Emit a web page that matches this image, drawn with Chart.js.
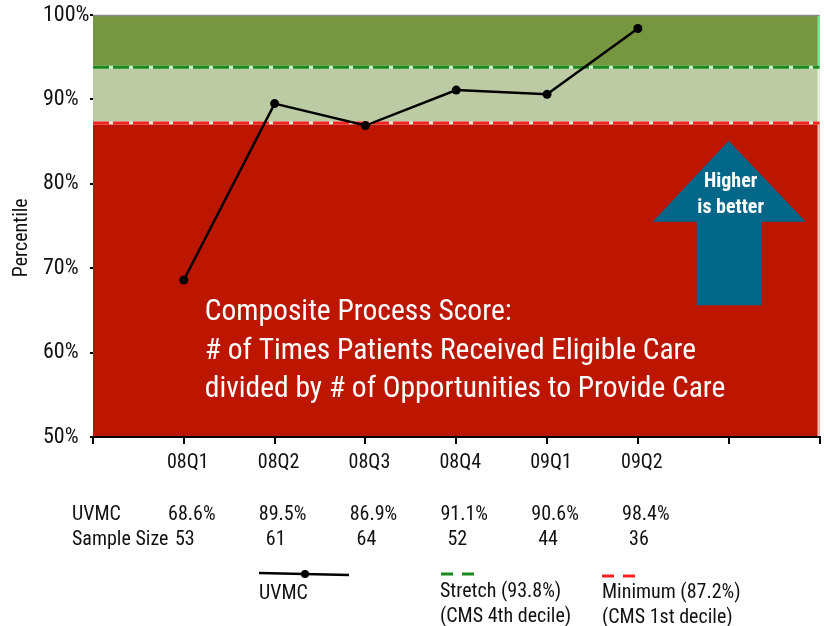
<!DOCTYPE html>
<html>
<head>
<meta charset="utf-8">
<script src="https://cdn.jsdelivr.net/npm/chart.js@4/dist/chart.umd.min.js"></script>
<style>
html,body{margin:0;padding:0;background:#fff;}
#wrap{width:824px;height:626px;position:relative;}
canvas{display:block;}
</style>
</head>
<body>
<div id="wrap"><canvas id="c" width="824" height="626"></canvas></div>
<script>
const categories = ['08Q1', '08Q2', '08Q3', '08Q4', '09Q1', '09Q2'];
const uvmcValues = [68.6, 89.5, 86.9, 91.1, 90.6, 98.4];
const sampleSizes = [53, 61, 64, 52, 44, 36];
const yTickValues = [50, 60, 70, 80, 90, 100];
const stretchTarget = 93.8;
const minimumTarget = 87.2;
const leadingSlots = 1;
const trailingSlots = 2;
const yAxisTitle = 'Percentile';
const noteLines = [
  'Composite Process Score:',
  '# of Times Patients Received Eligible Care',
  'divided by # of Opportunities to Provide Care'
];
const arrowLines = ['Higher', 'is better'];

const FONT = "'Liberation Sans Narrow', 'Arial Narrow', 'Roboto Condensed', sans-serif";

const axisLabels = [].concat(Array(leadingSlots).fill(''), categories, Array(trailingSlots).fill(''));
const seriesData = [].concat(Array(leadingSlots).fill(null), uvmcValues, Array(trailingSlots).fill(null));

const decorPlugin = {
  id: 'decor',
  beforeDraw(chart) {
    const ctx = chart.ctx;
    const a = chart.chartArea;
    const y = chart.scales.y;
    const x = chart.scales.x;
    const yTop = y.getPixelForValue(100);
    const yStretch = y.getPixelForValue(stretchTarget);
    const yMin = y.getPixelForValue(minimumTarget);
    const yBot = y.getPixelForValue(50);
    ctx.save();
    ctx.fillStyle = '#76963f';
    ctx.fillRect(a.left, yTop, a.right - a.left, yStretch - yTop);
    ctx.fillStyle = '#bccba3';
    ctx.fillRect(a.left, yStretch, a.right - a.left, yMin - yStretch);
    ctx.fillStyle = '#bc1500';
    ctx.fillRect(a.left, yMin, a.right - a.left, yBot - yMin);
    ctx.fillStyle = '#5ef59a';
    ctx.fillRect(a.right - 2, yTop, 2, yStretch - yTop);
    ctx.fillStyle = '#e2f5dc';
    ctx.fillRect(a.right - 2, yStretch, 2, yMin - yStretch);
    ctx.fillStyle = '#f3c3bd';
    ctx.fillRect(a.right - 2, yMin, 2, yBot - yMin);
    ctx.strokeStyle = '#8a8a8a';
    ctx.lineWidth = 1.5;
    ctx.beginPath(); ctx.moveTo(a.left, yTop + 0.5); ctx.lineTo(a.right, yTop + 0.5); ctx.stroke();
    function dashed(yy, under, over) {
      ctx.lineWidth = 3;
      ctx.setLineDash([]);
      ctx.strokeStyle = under;
      ctx.beginPath(); ctx.moveTo(a.left, yy); ctx.lineTo(a.right, yy); ctx.stroke();
      ctx.setLineDash([16, 4]);
      ctx.strokeStyle = over;
      ctx.beginPath(); ctx.moveTo(a.left, yy); ctx.lineTo(a.right, yy); ctx.stroke();
      ctx.setLineDash([]);
    }
    dashed(yStretch, '#c9f7c9', '#1a8a1f');
    dashed(yMin, '#e6eedc', '#f52222');

    const ax = x.getPixelForValue(7);
    const apexY = y.getPixelForValue(85.1);
    const baseY = y.getPixelForValue(75.5);
    const tailY = y.getPixelForValue(65.6);
    ctx.fillStyle = '#03678a';
    ctx.beginPath();
    ctx.moveTo(ax, apexY);
    ctx.lineTo(ax + 77, baseY);
    ctx.lineTo(ax + 33, baseY);
    ctx.lineTo(ax + 33, tailY);
    ctx.lineTo(ax - 32, tailY);
    ctx.lineTo(ax - 32, baseY);
    ctx.lineTo(ax - 76, baseY);
    ctx.closePath();
    ctx.fill();
    ctx.fillStyle = '#ffffff';
    ctx.font = 'bold 20px ' + FONT;
    ctx.textAlign = 'center';
    ctx.textBaseline = 'middle';
    ctx.fillText(arrowLines[0], ax + 2, y.getPixelForValue(80.2));
    ctx.fillText(arrowLines[1], ax + 2, y.getPixelForValue(77.1));

    ctx.font = '29.5px ' + FONT;
    ctx.textAlign = 'left';
    const noteX = x.getPixelForValue(1) + 21;
    const noteY0 = y.getPixelForValue(64.7);
    noteLines.forEach((t, i) => ctx.fillText(t, noteX, noteY0 + i * 38.5));

    // y axis title
    ctx.fillStyle = '#111';
    ctx.font = '20px ' + FONT;
    ctx.translate(22, y.getPixelForValue(73.6));
    ctx.rotate(-Math.PI / 2);
    ctx.textAlign = 'center';
    ctx.fillText(yAxisTitle, 0, 0);
    ctx.restore();
  },
  afterDraw(chart) {
    const ctx = chart.ctx;
    const x = chart.scales.x;
    ctx.save();
    ctx.fillStyle = '#111';
    ctx.font = '20px ' + FONT;
    ctx.textBaseline = 'middle';
    ctx.textAlign = 'left';
    const rowY1 = 515, rowY2 = 540;
    ctx.fillText('UVMC', 72, rowY1);
    ctx.fillText('Sample Size', 72, rowY2);
    ctx.textAlign = 'center';
    categories.forEach((c, i) => {
      const px = x.getPixelForValue(i + leadingSlots);
      ctx.fillText(uvmcValues[i].toFixed(1) + '%', px + 8, rowY1);
      ctx.fillText(String(sampleSizes[i]), px + 1, rowY2);
    });
    ctx.strokeStyle = '#000';
    ctx.lineWidth = 2.5;
    ctx.beginPath(); ctx.moveTo(259, 573); ctx.lineTo(349, 575); ctx.stroke();
    ctx.fillStyle = '#000';
    ctx.beginPath(); ctx.arc(305, 574, 4, 0, Math.PI * 2); ctx.fill();
    ctx.fillStyle = '#111';
    ctx.textAlign = 'left';
    ctx.fillText('UVMC', 259, 594);
    ctx.lineWidth = 3;
    ctx.strokeStyle = '#1a8a1f';
    ctx.beginPath(); ctx.moveTo(441, 574); ctx.lineTo(453, 574); ctx.moveTo(462, 574); ctx.lineTo(474, 574); ctx.stroke();
    ctx.strokeStyle = '#f52222';
    ctx.beginPath(); ctx.moveTo(602, 576); ctx.lineTo(614, 576); ctx.moveTo(623, 576); ctx.lineTo(635, 576); ctx.stroke();
    ctx.fillText('Stretch (' + stretchTarget.toFixed(1) + '%)', 440, 592);
    ctx.fillText('(CMS 4th decile)', 440, 617);
    ctx.fillText('Minimum (' + minimumTarget.toFixed(1) + '%)', 602, 593);
    ctx.fillText('(CMS 1st decile)', 602, 618);
    ctx.restore();
  }
};

new Chart(document.getElementById('c'), {
  type: 'line',
  data: {
    labels: axisLabels,
    datasets: [{
      label: 'UVMC',
      data: seriesData,
      borderColor: '#000',
      backgroundColor: '#000',
      borderWidth: 2.5,
      pointRadius: 4.5,
      pointBackgroundColor: '#000',
      pointBorderWidth: 0,
      tension: 0,
      fill: false
    }]
  },
  options: {
    responsive: false,
    animation: false,
    devicePixelRatio: 1,
    layout: { padding: { left: 43, top: 15, right: 2, bottom: 0 } },
    plugins: { legend: { display: false }, tooltip: { enabled: false } },
    scales: {
      x: {
        type: 'category',
        offset: false,
        border: { display: true, color: '#000', width: 2 },
        grid: { display: true, drawOnChartArea: false, drawTicks: true, tickLength: 7, color: '#000', lineWidth: 2 },
        ticks: { color: '#111', font: { family: FONT, size: 20 }, padding: 7, labelOffset: 4, maxRotation: 0, autoSkip: false },
        afterFit(s) { s.height = 189; s.paddingLeft = 0; s.paddingRight = 0; }
      },
      y: {
        min: 50, max: 100,
        border: { display: false },
        grid: { display: true, drawOnChartArea: false, drawTicks: true, tickLength: 3, color: '#000', lineWidth: 2 },
        afterBuildTicks(s) { s.ticks = yTickValues.map(v => ({ value: v })); },
        ticks: { color: '#111', font: { family: FONT, size: 22 }, padding: 4, crossAlign: 'far', callback: v => v + '%' },
        afterFit(s) { s.width = 50; s.paddingTop = 0; s.paddingBottom = 0; }
      }
    }
  },
  plugins: [decorPlugin]
});
</script>
</body>
</html>
